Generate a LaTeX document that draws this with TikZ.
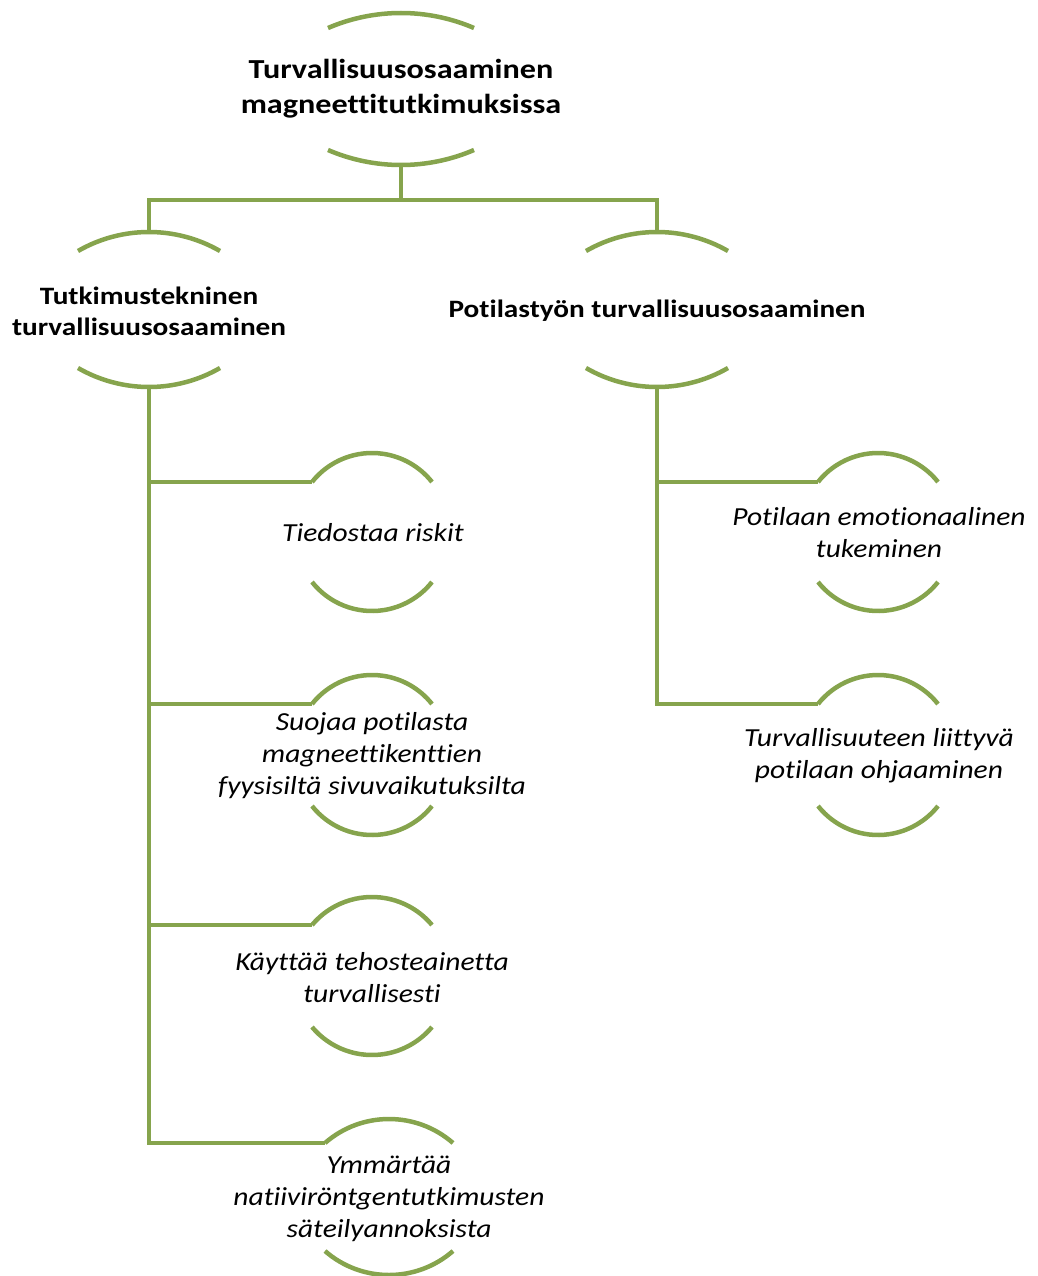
\documentclass[tikz,border=0pt]{standalone}
\usepackage{fontspec}
\setmainfont[Ligatures=CommonOff]{Carlito}
\newfontfamily\boldwidefont[FakeStretch=1.17,Ligatures=CommonOff]{Carlito}
\newfontfamily\italwidefont[FakeStretch=1.135,Ligatures=CommonOff]{Carlito}
\definecolor{olivegreen}{RGB}{134,164,77}
\tikzset{
  arcline/.style={draw=olivegreen, line width=4.5pt},
  conn/.style={draw=olivegreen, line width=4.5pt},
  headtext/.style={font=\boldwidefont\bfseries\fontsize{27.5}{35}\selectfont, align=center, inner sep=0pt},
  midtext/.style={font=\boldwidefont\bfseries\fontsize{25}{31}\selectfont, align=center, inner sep=0pt},
  leaftext/.style={font=\italwidefont\itshape\fontsize{26}{32}\selectfont, align=center, inner sep=0pt},
}
% name, cx, cy, half width, end offset, apex offset
\newcommand\greenbrk[6]{%
  \pgfmathsetmacro\bs{#6-#5}%
  \pgfmathsetmacro\br{(#4*#4+\bs*\bs)/(2*\bs)}%
  \pgfmathsetmacro\bt{asin(#4/\br)}%
  \coordinate (#1-l) at (#2-#4,#3-#5);
  \coordinate (#1-bl) at (#2-#4,#3+#5);
  \coordinate (#1-in) at (#2,#3-#6);
  \coordinate (#1-out) at (#2,#3+#6);
  \draw[arcline] (#1-l) arc[start angle=90+\bt, end angle=90-\bt, radius=\br*1pt];
  \draw[arcline] (#1-bl) arc[start angle=270-\bt, end angle=270+\bt, radius=\br*1pt];
}
\begin{document}
\begin{tikzpicture}[x=1pt,y=-1pt]
\useasboundingbox (0,0) rectangle (1037,1276);

% brackets
\greenbrk{T}{401}{89}{73}{61}{76}
\greenbrk{L}{149}{309.5}{71}{58.5}{77.5}
\greenbrk{R}{657}{309.5}{71}{58.5}{77.5}
\greenbrk{A}{372}{532}{60}{50}{79}
\greenbrk{B}{372}{755}{60}{51}{80}
\greenbrk{C}{372}{976}{60}{51}{79}
\greenbrk{D}{389}{1197}{64}{54}{78}
\greenbrk{E}{878}{532}{60}{50}{79}
\greenbrk{F}{878}{755}{60}{51}{80}

% texts
\node[headtext] (Tt) at (401,89) {Turvallisuusosaaminen\\magneettitutkimuksissa};
\node[midtext] (Lt) at (149,311) {Tutkimustekninen\\turvallisuusosaaminen};
\node[midtext] (Rt) at (657,311) {Potilastyön turvallisuusosaaminen};
\node[leaftext] (At) at (373,533) {Tiedostaa riskit};
\node[leaftext] (Bt) at (372,756) {Suojaa potilasta\\magneettikenttien\\fyysisiltä sivuvaikutuksilta};
\node[leaftext] (Ct) at (372,978) {Käyttää tehosteainetta\\turvallisesti};
\node[leaftext] (Dt) at (389,1199) {Ymmärtää\\natiiviröntgentutkimusten\\säteilyannoksista};
\node[leaftext] (Et) at (879,533) {Potilaan emotionaalinen\\tukeminen};
\node[leaftext] (Ft) at (879,756) {Turvallisuuteen liittyvä\\potilaan ohjaaminen};

% connectors
\coordinate (bus) at (401,200);
\draw[conn] (T-out) -- (bus);
\draw[conn] (L-in) |- (bus) -| (R-in);
\draw[conn] (L-out) |- (A-l);
\draw[conn] (L-out) |- (B-l);
\draw[conn] (L-out) |- (C-l);
\draw[conn] (L-out) |- (D-l);
\draw[conn] (R-out) |- (E-l);
\draw[conn] (R-out) |- (F-l);
\end{tikzpicture}
\end{document}
